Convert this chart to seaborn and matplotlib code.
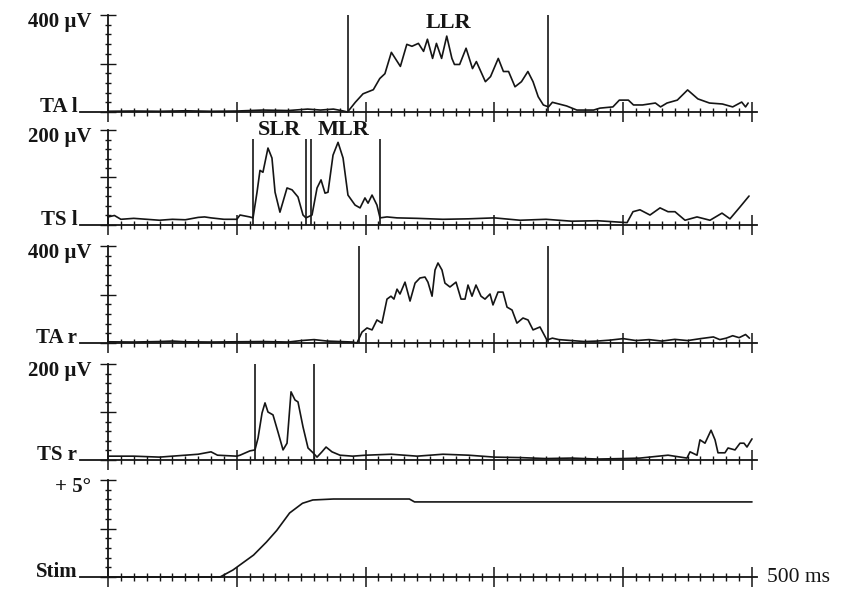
import numpy as np
import seaborn as sns
from matplotlib import pyplot as plt
from matplotlib.ticker import MultipleLocator, FixedLocator

# ---- data (time in ms, amplitude in µV / degrees) ----
ta_l_t = [0, 20, 40, 60, 80, 100, 120, 140, 155, 165, 175, 182, 186, 192, 198, 206, 211, 215,
          220, 227, 232, 236, 241, 245, 248, 252, 255, 259, 263, 267, 269, 273, 278, 283, 286,
          293, 297, 303, 307, 311, 316, 321, 326, 330, 334, 338, 342, 345, 356, 364, 377, 382,
          392, 397, 404, 408, 415, 425, 429, 434, 442, 450, 458, 467, 477, 485, 492, 495, 497]
ta_l_v = [3, 4, 3, 5, 3, 4, 8, 6, 12, 8, 12, 5, 0, 40, 75, 92, 138, 158,
          246, 188, 279, 271, 283, 250, 300, 221, 283, 221, 313, 221, 196, 196, 263, 179, 208,
          125, 146, 221, 167, 167, 104, 125, 167, 125, 63, 29, 21, 40, 25, 8, 8, 16,
          21, 49, 49, 29, 29, 37, 21, 37, 49, 91, 54, 37, 33, 21, 41, 21, 37]

ts_l_t = [0, 5, 10, 20, 30, 40, 50, 60, 70, 75, 80, 90, 100, 102.5, 110, 112.6, 115.7, 118,
          120.3, 124.2, 127.3, 129.7, 133.5, 139, 142.9, 147.5, 151.4, 153.7, 158.4, 162.3,
          165.4, 168.5, 170.8, 174.7, 178.6, 182.5, 186.3, 191.8, 195.7, 199.5, 201.9, 205,
          208.8, 211.2, 216.6, 224.4, 240, 260, 280, 300, 320, 340, 360, 380, 403, 407.6, 413,
          420.8, 428.6, 434.8, 440.2, 448, 457.3, 467.4, 476.7, 482.9, 490.7, 497.7]
ts_l_v = [17, 20, 12, 14, 12, 10, 12, 11, 16, 17, 15, 12, 12, 21, 17, 15, 69, 115,
          111, 162, 141, 69, 27, 78, 74, 59, 21, 15, 21, 78,
          95, 67, 69, 147, 174, 141, 63, 42, 36, 57, 46, 63,
          42, 15, 17, 15, 14, 12, 13, 15, 10, 12, 8, 9, 5, 28, 32,
          21, 36, 28, 28, 10, 17, 10, 25, 13, 38, 61]

ta_r_t = [0, 20, 40, 50, 60, 80, 100, 120, 140, 150, 160, 170, 180, 190, 193.3, 197.2, 201.1,
          205, 208.8, 212.7, 216.6, 219.7, 222, 224.4, 226.7, 230.6, 234.5, 238.4, 242.2, 246.1,
          248.4, 251.6, 253.9, 256.2, 259.3, 261.6, 265.5, 270.2, 274.1, 277.2, 279.5, 282.6,
          285.7, 289.6, 292.7, 296.6, 298.9, 302.8, 306.7, 309.8, 313.7, 317.5, 322.2, 326.1,
          330, 335.4, 340.8, 345, 350, 360, 370, 380, 390, 400, 410, 420, 430, 440, 450, 460,
          470, 475, 480, 485, 490, 495, 498]
ta_r_v = [5, 4, 6, 8, 5, 4, 5, 6, 4, 10, 14, 8, 6, 4, 0, 45, 62,
          54, 95, 82, 181, 193, 181, 222, 202, 251, 173, 247, 268, 272,
          251, 193, 301, 330, 301, 247, 231, 251, 181, 181, 239, 193,
          239, 193, 181, 202, 157, 210, 210, 148, 136, 82, 103, 95,
          54, 66, 12, 20, 14, 10, 6, 8, 12, 18, 10, 14, 8, 15, 10, 18,
          25, 14, 20, 30, 22, 35, 20]

ts_r_t = [0, 20, 40, 60, 70, 80, 85, 100, 102.5, 110.2, 114.1, 116.5, 119.6, 121.9, 124.2,
          128.1, 132, 135.9, 139, 142.1, 145.2, 147.5, 151.4, 155.3, 159.2, 162.3, 166.1, 169.3,
          173.9, 180.1, 190, 200, 220, 240, 260, 280, 300, 320, 340, 360, 380, 400, 413, 434.8,
          449.5, 451.9, 457.3, 459.6, 463.5, 468.2, 471.3, 473.6, 479, 481.4, 486.8, 490.7,
          493.8, 496.1, 500]
ts_r_v = [8, 8, 6, 10, 12, 17, 10, 8, 10, 19, 21, 46, 98, 119, 100,
          94, 58, 21, 35, 142, 125, 121, 69, 25, 15, 6, 17, 27,
          17, 10, 8, 10, 12, 8, 12, 10, 6, 5, 3, 4, 2, 3, 4, 10,
          4, 17, 10, 42, 35, 62, 42, 15, 15, 25, 21, 35,
          35, 27, 44]

stim_t = [0, 87, 97, 113, 123, 131, 141, 151, 159, 175, 234, 238, 500]
stim_v = [0, 0, 0.36, 1.13, 1.8, 2.4, 3.3, 3.8, 3.97, 4.02, 4.02, 3.87, 3.87]

traces = [(ta_l_t, ta_l_v), (ts_l_t, ts_l_v), (ta_r_t, ta_r_v), (ts_r_t, ts_r_v), (stim_t, stim_v)]
muscles = ['TA l', 'TS l', 'TA r', 'TS r', 'Stim']
scale_labels = ['400 µV', '200 µV', '400 µV', '200 µV', '+ 5°']
ymax = [400, 200, 400, 200, 5]
markers = [[186.3, 341.6], [112.3, 153.4, 157.8, 211.2], [195.0, 341.9], [113.8, 159.9], []]
marker_top = [400, 182, 400, 200, 0]
windows = {0: [('LLR', 264, 367)], 1: [('SLR', 132.8, 201), ('MLR', 182.5, 201)]}

# ---- layout (pixels of the 842x589 figure) ----
W, H = 842, 589
px_per_ms = 644 / 500
x0_px, x_left_px, x_right_px = 108, 80, 757
panel_px = [(15, 112), (130, 225), (246, 343), (364, 460), (480, 577)]

sns.set_style('white')
plt.rcParams['font.family'] = ['Liberation Serif', 'DejaVu Serif']
ink = '#151515'

fig = plt.figure(figsize=(W / 100, H / 100), dpi=100)
for i, (top, base) in enumerate(panel_px):
    ax = fig.add_axes([x_left_px / W, 1 - base / H, (x_right_px - x_left_px) / W, (base - top) / H])
    ax.set_xlim(-(x0_px - x_left_px) / px_per_ms, (x_right_px - x0_px) / px_per_ms)
    ax.set_ylim(0, ymax[i])
    ax.patch.set_alpha(0)

    t, v = traces[i]
    sns.lineplot(x=t, y=v, ax=ax, color=ink, lw=1.2, estimator=None, sort=False)
    for line in ax.lines:
        line.set_clip_on(False)

    if markers[i]:
        ax.vlines(markers[i], 0, marker_top[i], color=ink, lw=1.2, clip_on=False)

    for lab, tx, ty in windows.get(i, []):
        ax.text(tx, ty, lab, ha='center', va='center', fontsize=16, fontweight='bold', color=ink)

    # axes styling: y axis at t = 0, x axis along the baseline
    for s in ['top', 'right']:
        ax.spines[s].set_visible(False)
    ax.spines['left'].set_position(('data', 0))
    ax.spines['left'].set_bounds(0, ymax[i])
    for s in ['left', 'bottom']:
        ax.spines[s].set_color(ink)
        ax.spines[s].set_linewidth(1.3)
    ax.xaxis.set_major_locator(FixedLocator(np.arange(0, 501, 100)))
    ax.xaxis.set_minor_locator(FixedLocator(np.arange(10, 500, 10)))
    ax.yaxis.set_major_locator(MultipleLocator(ymax[i] / 2))
    ax.yaxis.set_minor_locator(MultipleLocator(ymax[i] / 10))
    ax.tick_params(which='both', labelbottom=False, labelleft=False, bottom=True, left=True)
    ax.tick_params(axis='x', which='major', direction='inout', length=15, width=1.1, color=ink)
    ax.tick_params(axis='x', which='minor', direction='inout', length=6, width=1.0, color=ink)
    ax.tick_params(axis='y', which='major', direction='inout', length=11, width=1.0, color=ink)
    ax.tick_params(axis='y', which='minor', direction='inout', length=5, width=1.0, color=ink)
    ax.set_xlabel('')
    ax.set_ylabel('')

    ax.annotate(scale_labels[i], xy=(0, ymax[i]), xytext=(-12, -5), textcoords='offset points',
                ha='right', va='center', fontsize=15, fontweight='bold', color=ink)
    ax.annotate(muscles[i], xy=(-(x0_px - x_left_px) / px_per_ms, 0), xytext=(-2, 0),
                textcoords='offset points', ha='right', va='baseline', fontsize=15,
                fontweight='bold', color=ink)

ax.annotate('500 ms', xy=(ax.get_xlim()[1], 0), xytext=(7, 0), textcoords='offset points',
            ha='left', va='center', fontsize=15.5, color=ink)

fig.savefig('out.png', dpi=100, facecolor='white')
